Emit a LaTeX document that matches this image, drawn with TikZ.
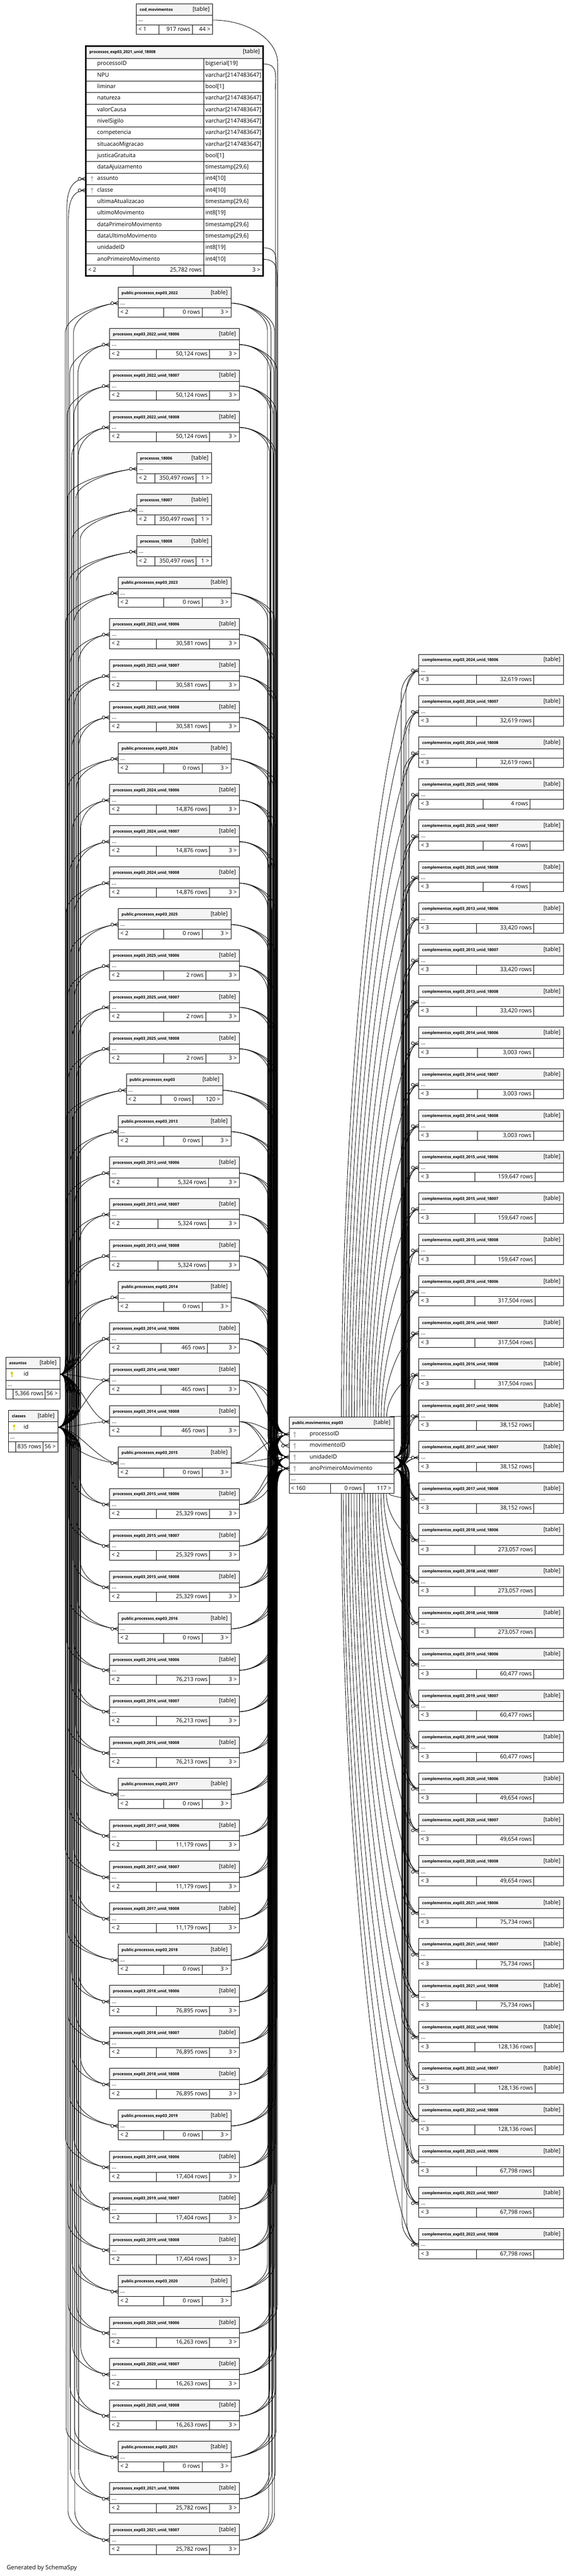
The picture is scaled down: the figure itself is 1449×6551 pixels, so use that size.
\documentclass[tikz,border=0pt]{standalone}
\usepackage{fontspec}
\setmainfont{Open Sans}
\definecolor{hdr}{HTML}{F4F4F4}
\definecolor{keyg}{HTML}{BDBDBD}
\definecolor{keyy}{HTML}{D4D400}
\pgfdeclarelayer{bg}
\pgfsetlayers{bg,main}
\tikzset{
  edge/.style={line width=1.1pt, draw=black},
  frame/.style={line width=1.2pt, draw=black},
  ttl/.style={anchor=west, inner sep=0pt, font=\bfseries, text height=10.5pt, text depth=3pt},
  txl/.style={anchor=west, inner sep=0pt, text height=10.5pt, text depth=3pt},
  txr/.style={anchor=east, inner sep=0pt, text height=10.5pt, text depth=3pt},
  crowpic/.pic={
    \draw[edge] (-11,0) -- (0,-5) (-11,0) -- (0,5);
    \draw[edge, fill=white] (-15.5,0) circle (3.8);
  },
  keypic/.pic={
    \fill (0,-3.5) circle (3.2);
    \fill (-1.1,-3.5) rectangle (1.1,7.5);
  },
}
% generic small table: id, xl, ytop, xr, d1, d2, title, rows, right text
\newcommand\tabbox[9]{%
  \filldraw[frame, fill=white] (#2,#3) rectangle (#4,#3+77);
  \filldraw[frame, fill=hdr] (#2,#3) rectangle (#4,#3+29);
  \draw[frame] (#2,#3+53) -- (#4,#3+53) (#5,#3+53) -- (#5,#3+77) (#6,#3+53) -- (#6,#3+77);
  \node[ttl] (#1) at (#2+8,#3+14.5) {#7};
  \node[txr] (#1-tag) at (#4-8,#3+14.5) {[table]};
  \node[txl] (#1-dots) at (#2+5,#3+41) {...};
  \node[txl] (#1-fl) at (#2+5,#3+65) {\lftxt};
  \node[txr] (#1-fm) at (#6-5,#3+65) {#8};
  \node[txr] (#1-fr) at (#4-6,#3+65) {#9};
  \coordinate (#1-w) at (#2,#3+41);
  \coordinate (#1-e) at (#4,#3+41);
}
\newcommand\myptab[2]{\pgfmathsetmacro\yt{730+#1*105.35}\def\lftxt{< 2}%
  \tabbox{L#1}{301}{\yt}{587}{416}{514}{public.processos\_exp03\_#2}{0 rows}{3 >}}
\newcommand\myutab[6]{\pgfmathsetmacro\yt{730+#1*105.35}\def\lftxt{< 2}%
  \tabbox{L#1}{279}{\yt}{608}{#5}{#6}{processos\_exp03\_#2\_unid\_#3}{#4 rows}{3 >}}
\newcommand\myxtab[2]{\pgfmathsetmacro\yt{730+#1*105.35}\def\lftxt{< 2}%
  \tabbox{L#1}{348}{\yt}{538}{394}{499}{processos\_#2}{350,497 rows}{1 >}}
\newcommand\yeargroup[5]{\myptab{#1}{#2}%
  \pgfmathtruncatemacro\kka{#1+1}\myutab{\kka}{#2}{18006}{#3}{#4}{#5}%
  \pgfmathtruncatemacro\kkb{#1+2}\myutab{\kkb}{#2}{18007}{#3}{#4}{#5}%
  \pgfmathtruncatemacro\kkc{#1+3}\myutab{\kkc}{#2}{18008}{#3}{#4}{#5}}
\newcommand\myrtab[6]{\pgfmathsetmacro\yt{1664+#1*105.35}\def\lftxt{< 3}%
  \tabbox{R#1}{1065}{\yt}{1433}{#5}{#6}{complementos\_exp03\_#2\_unid\_#3}{#4 rows}{}}
\newcommand\compgroup[5]{%
  \pgfmathtruncatemacro\jja{#1}\myrtab{\jja}{#2}{18006}{#3}{#4}{#5}%
  \pgfmathtruncatemacro\jjb{#1+1}\myrtab{\jjb}{#2}{18007}{#3}{#4}{#5}%
  \pgfmathtruncatemacro\jjc{#1+2}\myrtab{\jjc}{#2}{18008}{#3}{#4}{#5}}
% routed edge: start, y0, end, y1, bus x
\newcommand\busedge[5]{%
  \pgfmathtruncatemacro\bnear{(abs((#4)-(#2))<(\pbA+\pbB+20)) ? 1 : 0}%
  \pgfmathsetmacro\bsg{((#4)>(#2)) ? 1 : -1}%
  \ifnum\bnear=1
    \draw[edge] (#1) .. controls +(\pcN,0) and +(-\pcN,0) .. (#3);
  \else
    \pgfmathsetmacro\byA{(#2)+(\bsg)*\pbA}%
    \pgfmathsetmacro\byB{(#4)-(\bsg)*\pbB}%
    \pgfmathsetmacro\buA{-(\bsg)*\paA}%
    \pgfmathsetmacro\buB{(\bsg)*\paB}%
    \draw[edge] (#1) .. controls +(\pcA,0) and +(0,\buA) .. (#5,\byA) -- (#5,\byB) .. controls +(0,\buB) and +(-\pcB,0) .. (#3);
  \fi}
\newcommand\lmedges[1]{%
  \pgfmathsetmacro\yp{771+#1*105.35}%
  \pgfmathsetmacro\bxa{680+mod(#1*7,24)}%
  \pgfmathsetmacro\bxb{681+mod(#1*7+8,24)}%
  \pgfmathsetmacro\bxc{682+mod(#1*7+16,24)}%
  \busedge{L#1-e}{\yp}{M-p1}{3647.5}{\bxa}%
  \busedge{L#1-e}{\yp}{M-p3}{3705.5}{\bxb}%
  \busedge{L#1-e}{\yp}{M-p4}{3734.5}{\bxc}}
\begin{document}
\begin{tikzpicture}[x=1pt, y=-1pt, font=\fontsize{14.4}{17}\selectfont]
\useasboundingbox (0,0) rectangle (1449,6551);

% ---------- cod_movimentos ----------
\def\lftxt{< 1}
\tabbox{C}{347}{10}{541}{404}{489}{cod\_movimentos}{917 rows}{44 >}

% ---------- big table ----------
\filldraw[frame, fill=white] (218,117) rectangle (669,702);
\filldraw[frame, fill=hdr] (218,117) rectangle (669,148);
\foreach \i in {1,...,18} \draw[frame] (218,{148+\i*29.22}) -- (669,{148+\i*29.22});
\draw[frame] (518,148) -- (518,702) (339,674) -- (339,702);
\draw[line width=3.5pt] (218,117) rectangle (669,702);
\node[ttl] (B) at (227,132.5) {processos\_exp03\_2021\_unid\_18008};
\node[txr] (B-tag) at (661,132.5) {[table]};
\foreach \n/\t [count=\i from 0] in {processoID/bigserial[19], NPU/varchar[2147483647], liminar/bool[1], natureza/varchar[2147483647], valorCausa/varchar[2147483647], nivelSigilo/varchar[2147483647], competencia/varchar[2147483647], situacaoMigracao/varchar[2147483647], justicaGratuita/bool[1], dataAjuizamento/timestamp[29{,}6], assunto/int4[10], classe/int4[10], ultimaAtualizacao/timestamp[29{,}6], ultimoMovimento/int8[19], dataPrimeiroMovimento/timestamp[29{,}6], dataUltimoMovimento/timestamp[29{,}6], unidadeID/int8[19], anoPrimeiroMovimento/int4[10]}{
  \pgfmathsetmacro\ry{148+(\i+0.5)*29.22}
  \node[txl] (B-n\i) at (247,\ry) {\n};
  \node[txl] (B-t\i) at (522,\ry) {\t};
}
\pic[color=keyg] at (234,454.8) {keypic};
\pic[color=keyg] at (234,484.0) {keypic};
\node[txl] (B-fl) at (224,688) {< 2};
\node[txr] (B-fm) at (513,688) {25,782 rows};
\node[txr] (B-fr) at (662,688) {3 >};
\coordinate (B-as) at (218,454.8);
\coordinate (B-cl) at (218,484.0);
\coordinate (B-r1) at (669,162.6);
\coordinate (B-r17) at (669,630.1);
\coordinate (B-r18) at (669,659.4);

% ---------- left column ----------
\yeargroup{0}{2022}{50,124}{398}{533}
\myxtab{4}{18006}\myxtab{5}{18007}\myxtab{6}{18008}
\yeargroup{7}{2023}{30,581}{398}{533}
\yeargroup{11}{2024}{14,876}{398}{533}
\yeargroup{15}{2025}{2}{416}{523}
\pgfmathsetmacro\yt{730+19*105.35}\def\lftxt{< 2}
\tabbox{L19}{321}{\yt}{566}{409}{491}{public.processos\_exp03}{0 rows}{120 >}
\yeargroup{20}{2013}{5,324}{402}{530}
\yeargroup{24}{2014}{465}{409}{527}
\yeargroup{28}{2015}{25,329}{398}{533}
\yeargroup{32}{2016}{76,213}{398}{533}
\yeargroup{36}{2017}{11,179}{398}{533}
\yeargroup{40}{2018}{76,895}{398}{533}
\yeargroup{44}{2019}{17,404}{398}{533}
\yeargroup{48}{2020}{16,263}{398}{533}
\myptab{52}{2021}
\myutab{53}{2021}{18006}{25,782}{398}{533}
\myutab{54}{2021}{18007}{25,782}{398}{533}

% ---------- right column ----------
\compgroup{0}{2024}{32,619}{1211}{1357}
\compgroup{3}{2025}{4}{1228}{1348}
\compgroup{6}{2013}{33,420}{1211}{1357}
\compgroup{9}{2014}{3,003}{1214}{1356}
\compgroup{12}{2015}{159,647}{1207}{1360}
\compgroup{15}{2016}{317,504}{1207}{1360}
\compgroup{18}{2017}{38,152}{1211}{1357}
\compgroup{21}{2018}{273,057}{1207}{1360}
\compgroup{24}{2019}{60,477}{1211}{1357}
\compgroup{27}{2020}{49,654}{1211}{1357}
\compgroup{30}{2021}{75,734}{1211}{1357}
\compgroup{33}{2022}{128,136}{1207}{1360}
\compgroup{36}{2023}{67,798}{1211}{1357}

% ---------- assuntos ----------
\filldraw[frame, fill=white] (15,3452) rectangle (152,3558);
\filldraw[frame, fill=hdr] (15,3452) rectangle (152,3480);
\draw[frame] (15,3510) -- (152,3510) (15,3533) -- (152,3533) (34,3533) -- (34,3558) (115,3533) -- (115,3558);
\node[ttl] (AS-t) at (23,3466) {assuntos};
\node[txr] (AS-tag) at (144,3466) {[table]};
\pic[color=keyy] at (30,3495) {keypic};
\node[txl] (AS-id) at (60,3495) {id};
\node[txl] (AS-dots) at (19,3521.5) {...};
\node[txr] (AS-fm) at (111,3545.5) {5,366 rows};
\node[txr] (AS-fr) at (147,3545.5) {56 >};
\coordinate (AS) at (152,3495);

% ---------- classes ----------
\filldraw[frame, fill=white] (22,3587) rectangle (147,3693);
\filldraw[frame, fill=hdr] (22,3587) rectangle (147,3615);
\draw[frame] (22,3644) -- (147,3644) (22,3667) -- (147,3667) (40,3667) -- (40,3693) (109,3667) -- (109,3693);
\node[ttl] (CL-t) at (30,3601) {classes};
\node[txr] (CL-tag) at (139,3601) {[table]};
\pic[color=keyy] at (36,3629.5) {keypic};
\node[txl] (CL-id) at (60,3629.5) {id};
\node[txl] (CL-dots) at (26,3655.5) {...};
\node[txr] (CL-fm) at (105,3680) {835 rows};
\node[txr] (CL-fr) at (142,3680) {56 >};
\coordinate (CL) at (147,3629.5);

% ---------- central table ----------
\filldraw[frame, fill=white] (735,3603) rectangle (1001,3798);
\filldraw[frame, fill=hdr] (735,3603) rectangle (1001,3633);
\draw[frame] (735,3662) -- (1001,3662) (735,3691) -- (1001,3691) (735,3720) -- (1001,3720) (735,3749) -- (1001,3749) (735,3773) -- (1001,3773) (841,3773) -- (841,3798) (925,3773) -- (925,3798);
\node[ttl] (M) at (743,3618) {public.movimentos\_exp03};
\node[txr] (M-tag) at (993,3618) {[table]};
\foreach \n/\r/\yy in {processoID/1/3647.5, movimentoID/2/3676.5, unidadeID/3/3705.5, anoPrimeiroMovimento/4/3734.5}{
  \pic[color=keyg] at (749,\yy) {keypic};
  \node[txl] (M-n\r) at (787,\yy) {\n};
  \coordinate (M-p\r) at (735,\yy);
  \coordinate (M-q\r) at (1001,\yy);
}
\node[txl] (M-dots) at (740,3761) {...};
\node[txl] (M-fl) at (740,3785.5) {< 160};
\node[txr] (M-fm) at (920,3785.5) {0 rows};
\node[txr] (M-fr) at (995,3785.5) {117 >};

\node[anchor=west, inner sep=0pt, font=\fontsize{15}{18}\selectfont] (gen) at (17,6530) {Generated by SchemaSpy};

% ---------- connectors ----------
\begin{pgfonlayer}{bg}
\fill[white] (0,0) rectangle (1449,6551);
% parents assuntos / classes -> left tables
\def\pcA{15}\def\paA{30}\def\pbA{55}\def\pcB{35}\def\paB{45}\def\pbB{75}\def\pcN{50}
\foreach \k in {0,...,54}{%
  \pgfmathsetmacro\yp{771+\k*105.35}%
  \pgfmathsetmacro\bxa{166+mod(\k*11,38)}%
  \pgfmathsetmacro\bxc{168+mod(\k*11+19,38)}%
  \busedge{AS}{3495}{L\k-w}{\yp}{\bxa}%
  \busedge{CL}{3629.5}{L\k-w}{\yp}{\bxc}%
}
\busedge{AS}{3495}{B-as}{454.8}{170}
\busedge{CL}{3629.5}{B-cl}{484}{174}
% left tables -> movimentos
\def\pcA{40}\def\paA{40}\def\pbA{70}\def\pcB{25}\def\paB{30}\def\pbB{55}\def\pcN{60}
\foreach \k in {0,...,3}{\lmedges{\k}}
\foreach \k in {7,...,54}{\lmedges{\k}}
\busedge{B-r1}{162.6}{M-p1}{3647.5}{700}
\busedge{B-r17}{630.1}{M-p3}{3705.5}{702}
\busedge{B-r18}{659.4}{M-p4}{3734.5}{704}
\def\pcA{90}\def\paA{60}\def\pbA{110}
\busedge{C-e}{51}{M-p2}{3676.5}{706}
% movimentos -> complementos
\def\pcA{15}\def\paA{25}\def\pbA{45}\def\pcB{15}\def\paB{35}\def\pbB{60}\def\pcN{30}
\foreach \j in {0,...,38}{%
  \pgfmathsetmacro\yq{1705+\j*105.35}%
  \pgfmathsetmacro\bxa{1020+mod(\j*7,22)}%
  \pgfmathsetmacro\bxb{1021+mod(\j*7+11,22)}%
  \busedge{M-q3}{3705.5}{R\j-w}{\yq}{\bxa}%
  \busedge{M-q4}{3734.5}{R\j-w}{\yq}{\bxb}%
}
\foreach \j in {0,...,38}{%
  \pgfmathsetmacro\yq{1705+\j*105.35}%
  \pgfmathtruncatemacro\istop{\yq<3650 ? 1 : 0}%
  \ifnum\istop=1 \def\yo{3603}\else\def\yo{3798}\fi
  \pgfmathsetmacro\tx{max(868,990-0.065*abs(\yq-\yo))}%
  \pgfmathsetmacro\cy{\yq+0.5*(\yo-\yq)}%
  \pgfmathsetmacro\cx{\tx+0.6*(1065-\tx)}%
  \coordinate (MA\j) at (\tx,\yo);
  \draw[edge] (MA\j) .. controls (\tx,\cy) and (\cx,\yq) .. (R\j-w);
}
\end{pgfonlayer}

% ---------- crow's feet ----------
\foreach \k in {0,...,54} \pic at (L\k-w) {crowpic};
\pic at (B-as) {crowpic};
\pic at (B-cl) {crowpic};
\foreach \r in {1,2,3,4} \pic at (M-p\r) {crowpic};
\foreach \j in {0,...,38} \pic at (R\j-w) {crowpic};
\end{tikzpicture}
\end{document}
